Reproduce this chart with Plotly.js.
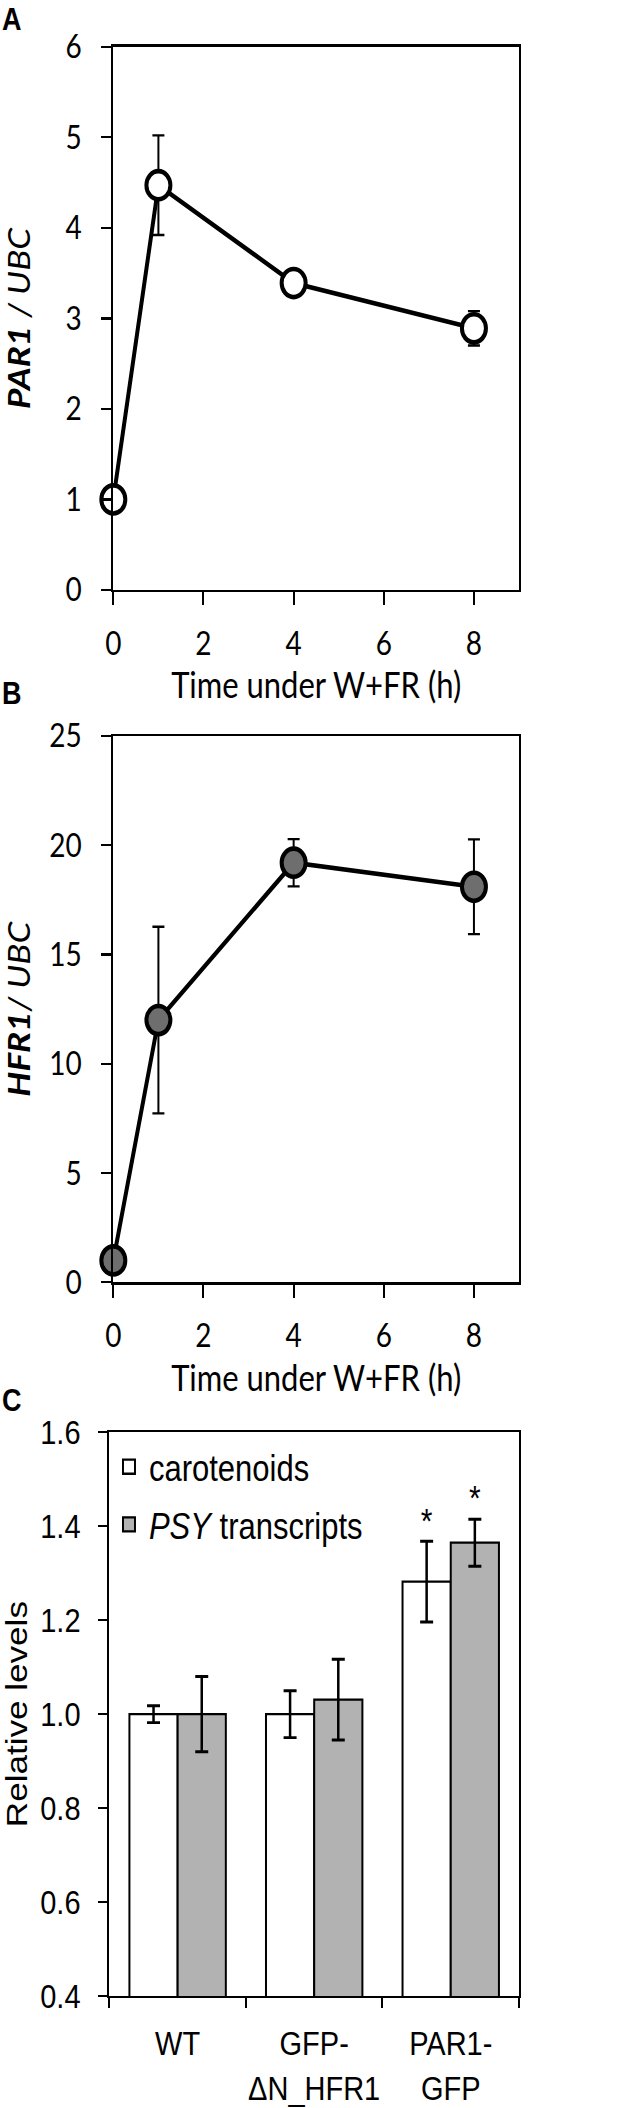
<!DOCTYPE html>
<html>
<head>
<meta charset="utf-8">
<script src="https://cdn.plot.ly/plotly-3.0.1.min.js"></script>
<style>
  html, body { margin: 0; padding: 0; background: #fff; overflow: hidden; }
  #wrap { width: 641px; height: 2108px; overflow: hidden; }
  #chart { width: 641px; height: 1802px; transform-origin: 0 0; transform: scaleY(1.16981); }
</style>
</head>
<body>
<div id="wrap"><div id="chart"></div></div>
<script>
// ---- Data (panel A) ----
const timeHours = [0, 1, 4, 8];
const par1Levels = [1.0, 4.47, 3.39, 2.89];
const par1Err = [0.03, 0.55, 0.05, 0.19];

// ---- Data (panel B) ----
const hfr1Levels = [1.0, 12.0, 19.2, 18.1];
const hfr1Err = [0.1, 4.27, 1.08, 2.17];

// ---- Data (panel C) ----
const genotypes = ['WT', 'GFP-<br>ΔN_HFR1', 'PAR1-<br>GFP'];
const carotenoids = [1.0, 1.0, 1.282];
const carotenoidsErr = [0.018, 0.05, 0.086];
const psyTranscripts = [1.0, 1.031, 1.365];
const psyErr = [0.08, 0.086, 0.05];
const carotenoidsSig = ['', '', '*'];
const psySig = ['', '', '*'];

const LATO = 'Lato, "Open Sans", sans-serif';
const ARIAL = '"Liberation Sans", Arial, sans-serif';

const errStyle = (arr) => ({ type: 'data', array: arr, visible: true, color: '#000', thickness: 2, width: 6 });

const traces = [
  {
    x: timeHours, y: par1Levels, xaxis: 'x', yaxis: 'y', type: 'scatter', mode: 'lines+markers',
    line: { color: '#000', width: 4 },
    marker: { size: 24, color: '#fff', line: { color: '#000', width: 4 } },
    error_y: errStyle(par1Err), showlegend: false, cliponaxis: false
  },
  {
    x: timeHours, y: hfr1Levels, xaxis: 'x2', yaxis: 'y2', type: 'scatter', mode: 'lines+markers',
    line: { color: '#000', width: 4 },
    marker: { size: 24, color: '#6e6e6e', line: { color: '#000', width: 4 } },
    error_y: errStyle(hfr1Err), showlegend: false, cliponaxis: false
  },
  {
    x: genotypes, y: carotenoids, xaxis: 'x3', yaxis: 'y3', type: 'bar', name: 'carotenoids',
    marker: { color: '#ffffff', line: { color: '#000', width: 2 } },
    error_y: { type: 'data', array: carotenoidsErr, visible: true, color: '#000', thickness: 2.5, width: 6.5 },
    offsetgroup: '1', alignmentgroup: 'g', legendgroup: 'a'
  },
  {
    x: genotypes, y: psyTranscripts, xaxis: 'x3', yaxis: 'y3', type: 'bar', name: '<i>PSY</i> transcripts',
    marker: { color: '#b2b2b2', line: { color: '#000', width: 2 } },
    error_y: { type: 'data', array: psyErr, visible: true, color: '#000', thickness: 2.5, width: 6.5 },
    offsetgroup: '2', alignmentgroup: 'g', legendgroup: 'b'
  },
  {
    x: genotypes, y: carotenoids.map((v, i) => v + carotenoidsErr[i]), xaxis: 'x3', yaxis: 'y3',
    type: 'scatter', mode: 'text', text: carotenoidsSig, textposition: 'top center',
    textfont: { family: ARIAL, size: 30, color: '#000' }, marker: { size: 1 },
    offsetgroup: '1', alignmentgroup: 'g', showlegend: false, cliponaxis: false
  },
  {
    x: genotypes, y: psyTranscripts.map((v, i) => v + psyErr[i]), xaxis: 'x3', yaxis: 'y3',
    type: 'scatter', mode: 'text', text: psySig, textposition: 'top center',
    textfont: { family: ARIAL, size: 30, color: '#000' }, marker: { size: 1 },
    offsetgroup: '2', alignmentgroup: 'g', showlegend: false, cliponaxis: false
  }
];

const axBase = {
  showline: true, mirror: true, linecolor: '#000', linewidth: 2,
  ticks: 'outside', tickcolor: '#000', tickwidth: 2,
  showgrid: false, zeroline: false, fixedrange: true
};

const layout = {
  width: 641, height: 1802,
  margin: { l: 0, r: 0, t: 0, b: 0 },
  paper_bgcolor: '#fff', plot_bgcolor: '#fff',
  barmode: 'group', bargap: 0.294, bargroupgap: 0,
  scattermode: 'group', scattergap: 0.294,
  xaxis: Object.assign({}, axBase, {
    domain: [0.1768, 0.8097], anchor: 'y', range: [0, 9], tickvals: [0, 2, 4, 6, 8], ticklen: 11,
    tickfont: { family: LATO, size: 28, color: '#000' }, ticklabelstandoff: 9,
    title: { text: 'Time under W+FR (h)', font: { family: LATO, size: 31, color: '#000' }, standoff: 10 }
  }),
  yaxis: Object.assign({}, axBase, {
    domain: [0.72011, 0.97785], anchor: 'x', range: [0, 6], dtick: 1, ticklen: 10,
    tickfont: { family: LATO, size: 28, color: '#000' }, ticklabelstandoff: 14,
    title: { text: '<b><i>PAR1</i></b><i> / UBC</i>', font: { family: LATO, size: 30, color: '#000' }, standoff: 28 }
  }),
  xaxis2: Object.assign({}, axBase, {
    domain: [0.1768, 0.8097], anchor: 'y2', range: [0, 9], tickvals: [0, 2, 4, 6, 8], ticklen: 11,
    tickfont: { family: LATO, size: 28, color: '#000' }, ticklabelstandoff: 9,
    title: { text: 'Time under W+FR (h)', font: { family: LATO, size: 31, color: '#000' }, standoff: 10 }
  }),
  yaxis2: Object.assign({}, axBase, {
    domain: [0.39170, 0.65085], anchor: 'x2', range: [0, 25], dtick: 5, ticklen: 10,
    tickfont: { family: LATO, size: 28, color: '#000' }, ticklabelstandoff: 14,
    title: { text: '<b><i>HFR1</i></b><i>/ UBC</i>', font: { family: LATO, size: 30, color: '#000' }, standoff: 14 }
  }),
  xaxis3: Object.assign({}, axBase, {
    domain: [0.1706, 0.8097], anchor: 'y3', type: 'category', range: [-0.5, 2.5],
    tickson: 'boundaries', ticklen: 8, tickangle: 0,
    tickfont: { family: ARIAL, size: 29, color: '#000' }, ticklabelstandoff: 14
  }),
  yaxis3: Object.assign({}, axBase, {
    domain: [0.05313, 0.32054], anchor: 'x3', range: [0.4, 1.6], dtick: 0.2, tickformat: '.1f', ticklen: 9,
    tickfont: { family: ARIAL, size: 29, color: '#000' }, ticklabelstandoff: 12,
    title: { text: 'Relative levels', font: { family: ARIAL, size: 30, color: '#000' }, standoff: 10 }
  }),
  showlegend: true,
  legend: {
    x: 0.170, xanchor: 'left', y: 0.319, yanchor: 'top',
    font: { family: ARIAL, size: 31, color: '#000' },
    bgcolor: 'rgba(0,0,0,0)', borderwidth: 0,
    traceorder: 'grouped', tracegroupgap: 6
  },
  annotations: [
    { text: '<b>A</b>', xref: 'paper', yref: 'paper', x: 0.0187, y: 1.0, xanchor: 'center', yanchor: 'top', showarrow: false, font: { family: ARIAL, size: 27, color: '#000' } },
    { text: '<b>B</b>', xref: 'paper', yref: 'paper', x: 0.0187, y: 0.67081, xanchor: 'center', yanchor: 'middle', showarrow: false, font: { family: ARIAL, size: 27, color: '#000' } },
    { text: '<b>C</b>', xref: 'paper', yref: 'paper', x: 0.0187, y: 0.33590, xanchor: 'center', yanchor: 'middle', showarrow: false, font: { family: ARIAL, size: 27, color: '#000' } }
  ]
};

Plotly.newPlot('chart', traces, layout, { staticPlot: true, displayModeBar: false });
</script>
</body>
</html>
